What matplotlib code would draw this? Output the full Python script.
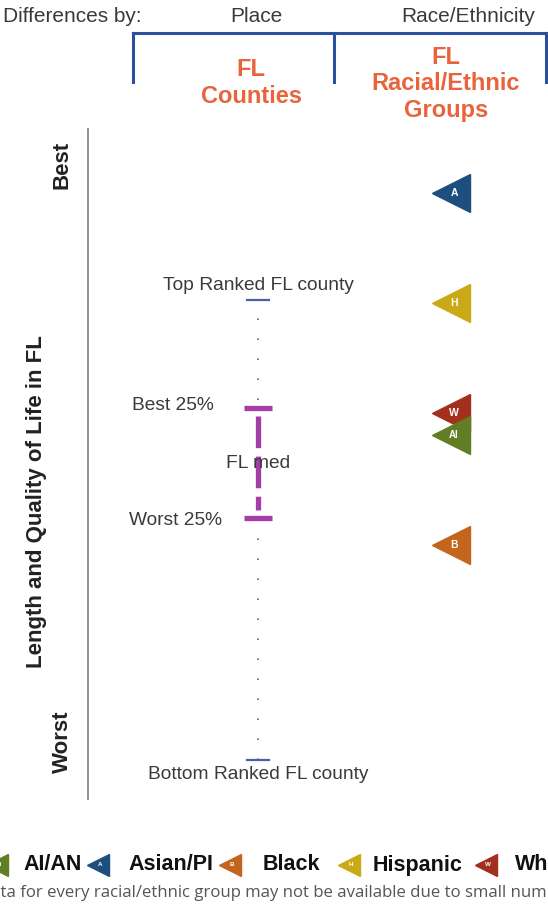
import matplotlib
matplotlib.use("Agg")
import matplotlib.pyplot as plt

# score scale: 100 = best (top of axis), 0 = worst (bottom of axis)
county_labels = ["Top Ranked FL county", "Best 25%", "FL med", "Worst 25%", "Bottom Ranked FL county"]
county_values = [74.4, 58.3, 50.1, 42.0, 6.0]

groups = ["A", "H", "W", "AI", "B"]
group_values = [90.3, 74.0, 57.6, 54.3, 37.9]
group_colors = ["#1d4f7e", "#c9a916", "#a3301c", "#617e24", "#c4651e"]

legend_names = ["AI/AN", "Asian/PI", "Black", "Hispanic", "White"]
legend_colors = ["#617e24", "#1d4f7e", "#c4651e", "#c9a916", "#a3301c"]
legend_letters = ["AI", "A", "B", "H", "W"]

W, H = 548, 911
fig = plt.figure(figsize=(W / 100, H / 100), dpi=100)
plt.rcParams['font.family'] = ['Liberation Sans', 'DejaVu Sans']


def fx(x):
    return x / W


def fy(y):
    return 1 - y / H


# main axis area: pixel rows 128..800
ax = fig.add_axes([0, fy(800), 1, (800 - 128) / H])
ax.set_xlim(0, W)
ax.set_ylim(0, 100)
ax.axis("off")

grey = "#3a3a3a"
ax.plot([88, 88], [0, 100], color="#808080", lw=1.2)

# header
fig.text(fx(3), fy(17), "Differences by:", ha="left", va="center", fontsize=15, color=grey)
fig.text(fx(256), fy(17), "Place", ha="center", va="center", fontsize=15, color=grey)
fig.text(fx(468), fy(17), "Race/Ethnicity", ha="center", va="center", fontsize=15, color=grey)
blue = "#2c4f9e"
fig.add_artist(plt.Line2D([fx(133), fx(546)], [fy(33), fy(33)], color=blue, lw=2.2))
for xb in [133, 334, 546]:
    fig.add_artist(plt.Line2D([fx(xb), fx(xb)], [fy(33), fy(82)], color=blue, lw=2.2))
orange = "#e8643c"
fig.text(fx(251), fy(83), "FL\nCounties", ha="center", va="center", fontsize=17,
         fontweight="bold", color=orange, linespacing=1.2)
fig.text(fx(446), fy(84), "FL\nRacial/Ethnic\nGroups", ha="center", va="center", fontsize=17,
         fontweight="bold", color=orange, linespacing=1.2)

# left labels
fig.text(fx(62), fy(165), "Best", rotation=90, ha="center", va="center", fontsize=16,
         fontweight="bold", color="#222222")
fig.text(fx(62), fy(742), "Worst", rotation=90, ha="center", va="center", fontsize=16,
         fontweight="bold", color="#222222")
fig.text(fx(37), fy(502), "Length and Quality of Life in FL", rotation=90, ha="center",
         va="center", fontsize=16, fontweight="bold", color="#222222")

# county column
cx = 258
top, q1, med, q3, bottom = county_values
ax.plot([cx, cx], [bottom, top], color="#666666", lw=1.2, dashes=[1, 11])
ax.plot([cx - 11, cx + 11], [top, top], color="#4a5fa8", lw=1.6)
ax.plot([cx - 11, cx + 11], [bottom, bottom], color="#4a5fa8", lw=1.6)
purple = "#a23ea6"
ax.plot([cx - 14, cx + 14], [q1, q1], color=purple, lw=3.8, solid_capstyle="butt")
ax.plot([cx - 14, cx + 14], [q3, q3], color=purple, lw=3.8, solid_capstyle="butt")
ax.plot([cx, cx], [q1 - 1.2, q3 + 1.2], color=purple, lw=3.8, dashes=[6, 1.6])
ax.text(cx, top + 2.2, county_labels[0], ha="center", va="center", fontsize=13.8, color=grey)
ax.text(cx, bottom - 2.2, county_labels[4], ha="center", va="center", fontsize=13.8, color=grey)
ax.text(214, q1 + 0.4, county_labels[1], ha="right", va="center", fontsize=13.8, color=grey)
ax.text(222, q3 - 0.4, county_labels[3], ha="right", va="center", fontsize=13.8, color=grey)
ax.text(cx, med, county_labels[2], ha="center", va="center", fontsize=13.8, color=grey)

# racial/ethnic groups
gx = 451
for g, v, c in zip(groups, group_values, group_colors):
    ax.plot(gx, v, marker="<", ms=27, color=c, mec=c, ls="none")
    ax.text(gx + 3, v, g, ha="center", va="center", fontsize=7.5 if len(g) == 1 else 7,
            fontweight="bold", color="white")

# legend row
legend_x = [-3, 98, 230, 349, 486]
text_x = [23, 128, 263, 373, 515]
for lx, tx, name, c, lt in zip(legend_x, text_x, legend_names, legend_colors, legend_letters):
    fig.add_artist(plt.Line2D([fx(lx)], [fy(865)], marker="<", ms=16, color=c, mec=c, ls="none"))
    fig.text(fx(lx + 2), fy(865), lt, ha="center", va="center", fontsize=4.5, color="white",
             fontweight="bold")
    fig.text(fx(tx), fy(865), name, ha="left", va="center", fontsize=15.5, fontweight="bold",
             color="#111111")

fig.text(fx(-21), fy(893), "Data for every racial/ethnic group may not be available due to small numbers",
         ha="left", va="center", fontsize=12.1, color="#555555", family=["Open Sans", "DejaVu Sans"])

fig.savefig("out.png", dpi=100)
